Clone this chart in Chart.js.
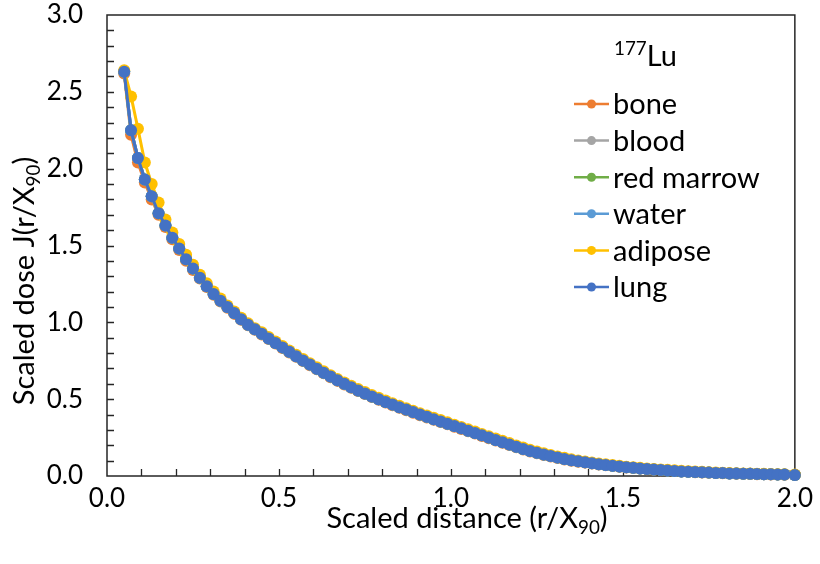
<!DOCTYPE html>
<html>
<head>
<meta charset="utf-8">
<script src="https://cdn.jsdelivr.net/npm/chart.js@4/dist/chart.umd.min.js"></script>
<style>
  body { margin: 0; background: #fff; }
  #wrap { width: 820px; height: 564px; }
</style>
</head>
<body>
<div id="wrap"><canvas id="chart"></canvas></div>
<script>
// scaled distance r/X90
const distance = [
  0.05, 0.07, 0.09, 0.11, 0.13, 0.15, 0.17, 0.19, 0.21, 0.23,
  0.25, 0.27, 0.29, 0.31, 0.33, 0.35, 0.37, 0.39, 0.41, 0.43,
  0.45, 0.47, 0.49, 0.51, 0.53, 0.55, 0.57, 0.59, 0.61, 0.63,
  0.65, 0.67, 0.69, 0.71, 0.73, 0.75, 0.77, 0.79, 0.81, 0.83,
  0.85, 0.87, 0.89, 0.91, 0.93, 0.95, 0.97, 0.99, 1.01, 1.03,
  1.05, 1.07, 1.09, 1.11, 1.13, 1.15, 1.17, 1.19, 1.21, 1.23,
  1.25, 1.27, 1.29, 1.31, 1.33, 1.35, 1.37, 1.39, 1.41, 1.43,
  1.45, 1.47, 1.49, 1.51, 1.53, 1.55, 1.57, 1.59, 1.61, 1.63,
  1.65, 1.67, 1.69, 1.71, 1.73, 1.75, 1.77, 1.79, 1.81, 1.83,
  1.85, 1.87, 1.89, 1.91, 1.93, 1.95, 1.97, 2.00
];

const boneDose = [
  2.62, 2.22, 2.04, 1.91, 1.80, 1.70, 1.62, 1.54, 1.47, 1.40,
  1.34, 1.285, 1.23, 1.18, 1.135, 1.095, 1.055, 1.016, 0.981, 0.951,
  0.921, 0.891, 0.862, 0.833, 0.804, 0.776, 0.748, 0.721, 0.694, 0.668,
  0.643, 0.619, 0.596, 0.574, 0.553, 0.533, 0.514, 0.496, 0.478, 0.461,
  0.444, 0.428, 0.412, 0.396, 0.381, 0.366, 0.351, 0.336, 0.321, 0.306,
  0.291, 0.276, 0.261, 0.246, 0.231, 0.216, 0.201, 0.187, 0.173, 0.160,
  0.148, 0.137, 0.127, 0.117, 0.108, 0.100, 0.093, 0.087, 0.081, 0.075,
  0.070, 0.065, 0.060, 0.056, 0.052, 0.048, 0.044, 0.041, 0.038, 0.035,
  0.032, 0.029, 0.027, 0.025, 0.023, 0.021, 0.019, 0.018, 0.016, 0.015,
  0.014, 0.013, 0.012, 0.011, 0.010, 0.009, 0.008, 0.006
];

// blood, red marrow, water and lung lie on top of each other
const tissueDose = [
  2.63, 2.25, 2.07, 1.93, 1.82, 1.71, 1.63, 1.55, 1.48, 1.41,
  1.35, 1.29, 1.235, 1.185, 1.14, 1.10, 1.06, 1.02, 0.985, 0.955,
  0.925, 0.895, 0.866, 0.837, 0.808, 0.780, 0.752, 0.725, 0.698, 0.672,
  0.647, 0.623, 0.600, 0.578, 0.557, 0.537, 0.518, 0.500, 0.482, 0.465,
  0.448, 0.432, 0.416, 0.400, 0.385, 0.370, 0.355, 0.340, 0.325, 0.310,
  0.295, 0.280, 0.265, 0.250, 0.235, 0.220, 0.205, 0.190, 0.176, 0.163,
  0.151, 0.140, 0.130, 0.120, 0.111, 0.103, 0.096, 0.089, 0.083, 0.077,
  0.072, 0.067, 0.062, 0.057, 0.053, 0.049, 0.045, 0.042, 0.039, 0.036,
  0.033, 0.030, 0.028, 0.026, 0.024, 0.022, 0.020, 0.019, 0.017, 0.016,
  0.015, 0.014, 0.013, 0.012, 0.011, 0.010, 0.009, 0.007
];

const adiposeDose = [
  2.64, 2.47, 2.26, 2.04, 1.90, 1.78, 1.67, 1.585, 1.51, 1.44,
  1.375, 1.31, 1.255, 1.20, 1.155, 1.11, 1.07, 1.03, 0.994, 0.962,
  0.935, 0.905, 0.875, 0.846, 0.817, 0.789, 0.761, 0.734, 0.707, 0.681,
  0.656, 0.632, 0.609, 0.587, 0.566, 0.546, 0.527, 0.509, 0.491, 0.474,
  0.457, 0.441, 0.425, 0.409, 0.394, 0.379, 0.364, 0.349, 0.334, 0.319,
  0.304, 0.289, 0.274, 0.259, 0.244, 0.229, 0.214, 0.199, 0.185, 0.171,
  0.159, 0.148, 0.137, 0.127, 0.118, 0.109, 0.101, 0.094, 0.088, 0.082,
  0.076, 0.071, 0.066, 0.061, 0.057, 0.053, 0.049, 0.046, 0.043, 0.040,
  0.037, 0.034, 0.031, 0.029, 0.027, 0.025, 0.023, 0.021, 0.020, 0.018,
  0.017, 0.016, 0.015, 0.014, 0.013, 0.012, 0.011, 0.009
];

const seriesNames = ['bone', 'blood', 'red marrow', 'water', 'adipose', 'lung'];
const seriesColors = ['#ED7D31', '#A5A5A5', '#70AD47', '#5B9BD5', '#FFC000', '#4472C4'];
const seriesValues = [boneDose, tissueDose, tissueDose, tissueDose, adiposeDose, tissueDose];

const FONT = 'Lato, "Open Sans", sans-serif';

function points(ys) {
  return distance.map((x, i) => ({x: x, y: ys[i]}));
}

const datasets = seriesNames.map((name, i) => ({
  label: name,
  data: points(seriesValues[i]),
  borderColor: seriesColors[i],
  backgroundColor: seriesColors[i],
  borderWidth: 3,
  pointRadius: 6,
  pointBorderWidth: 0,
  showLine: true,
  clip: false,
  // later series drawn on top, like the original
  order: seriesNames.length - i
}));

// box round the plot, ticks pointing inward
const framePlugin = {
  id: 'frame',
  beforeDatasetsDraw(chart) {
    const {ctx, chartArea: a, scales: {x, y}} = chart;
    ctx.save();
    ctx.strokeStyle = '#262626';
    ctx.lineWidth = 1.5;
    ctx.strokeRect(a.left, a.top, a.right - a.left, a.bottom - a.top);
    ctx.lineWidth = 1.3;
    ctx.beginPath();
    for (let i = 1; i < 20; i++) {
      const px = Math.round(x.getPixelForValue(i / 10)) + 0.5;
      ctx.moveTo(px, a.bottom);
      ctx.lineTo(px, a.bottom - 7);
    }
    for (let i = 1; i < 30; i++) {
      const py = Math.round(y.getPixelForValue(i / 10)) + 0.5;
      ctx.moveTo(a.left, py);
      ctx.lineTo(a.left + 7, py);
    }
    ctx.stroke();
    ctx.restore();
  }
};

// text with a subscript / superscript part
function drawRich(ctx, parts, x, y, size, align) {
  let w = 0;
  parts.forEach(p => {
    ctx.font = (p.small ? size * 0.65 : size) + 'px ' + FONT;
    w += ctx.measureText(p.t).width;
  });
  let cx = align === 'center' ? x - w / 2 : x;
  parts.forEach(p => {
    ctx.font = (p.small ? size * 0.65 : size) + 'px ' + FONT;
    const dy = p.small === 'sub' ? size * 0.22 : p.small === 'sup' ? -size * 0.38 : 0;
    ctx.fillText(p.t, cx, y + dy);
    cx += ctx.measureText(p.t).width;
  });
}

const textPlugin = {
  id: 'texts',
  afterDraw(chart) {
    const ctx = chart.ctx;
    ctx.save();
    ctx.fillStyle = '#000';
    ctx.textBaseline = 'alphabetic';
    ctx.textAlign = 'left';

    // axis titles
    drawRich(ctx, [{t: 'Scaled distance (r/X'}, {t: '90', small: 'sub'}, {t: ')'}], 467, 528, 29, 'center');
    ctx.save();
    ctx.translate(34, 281);
    ctx.rotate(-Math.PI / 2);
    drawRich(ctx, [{t: 'Scaled dose J(r/X'}, {t: '90', small: 'sub'}, {t: ')'}], 0, 0, 29, 'center');
    ctx.restore();

    // legend title
    drawRich(ctx, [{t: '177', small: 'sup'}, {t: 'Lu'}], 614, 66, 29, 'left');

    // legend entries
    chart.data.datasets.forEach((ds, i) => {
      const yy = 104 + i * 36.6;
      ctx.strokeStyle = ds.borderColor;
      ctx.lineWidth = 2.5;
      ctx.beginPath();
      ctx.moveTo(574, yy);
      ctx.lineTo(609, yy);
      ctx.stroke();
      ctx.fillStyle = ds.backgroundColor;
      ctx.beginPath();
      ctx.arc(591.5, yy, 4.5, 0, Math.PI * 2);
      ctx.fill();
      ctx.fillStyle = '#000';
      ctx.font = '29px ' + FONT;
      ctx.textBaseline = 'middle';
      ctx.fillText(ds.label, 613, yy + 1);
      ctx.textBaseline = 'alphabetic';
    });
    ctx.restore();
  }
};

new Chart(document.getElementById('chart'), {
  type: 'scatter',
  data: {datasets: datasets},
  options: {
    responsive: true,
    maintainAspectRatio: false,
    animation: false,
    layout: {padding: {top: 15, right: 23, left: 0, bottom: 0}},
    plugins: {legend: {display: false}, tooltip: {enabled: false}},
    scales: {
      x: {
        type: 'linear',
        min: 0,
        max: 2,
        grid: {display: false, drawTicks: false},
        border: {display: false},
        ticks: {
          stepSize: 0.5,
          padding: 7,
          color: '#000',
          font: {family: FONT, size: 26},
          callback: v => v.toFixed(1)
        },
        afterFit: s => { s.height = 88; }
      },
      y: {
        type: 'linear',
        min: 0,
        max: 3,
        grid: {display: false, drawTicks: false},
        border: {display: false},
        ticks: {
          stepSize: 0.5,
          padding: 24,
          color: '#000',
          font: {family: FONT, size: 26},
          callback: v => v.toFixed(1)
        },
        afterFit: s => { s.width = 107; s.paddingTop = 0; s.paddingBottom = 0; }
      }
    }
  },
  plugins: [framePlugin, textPlugin]
});
</script>
</body>
</html>
